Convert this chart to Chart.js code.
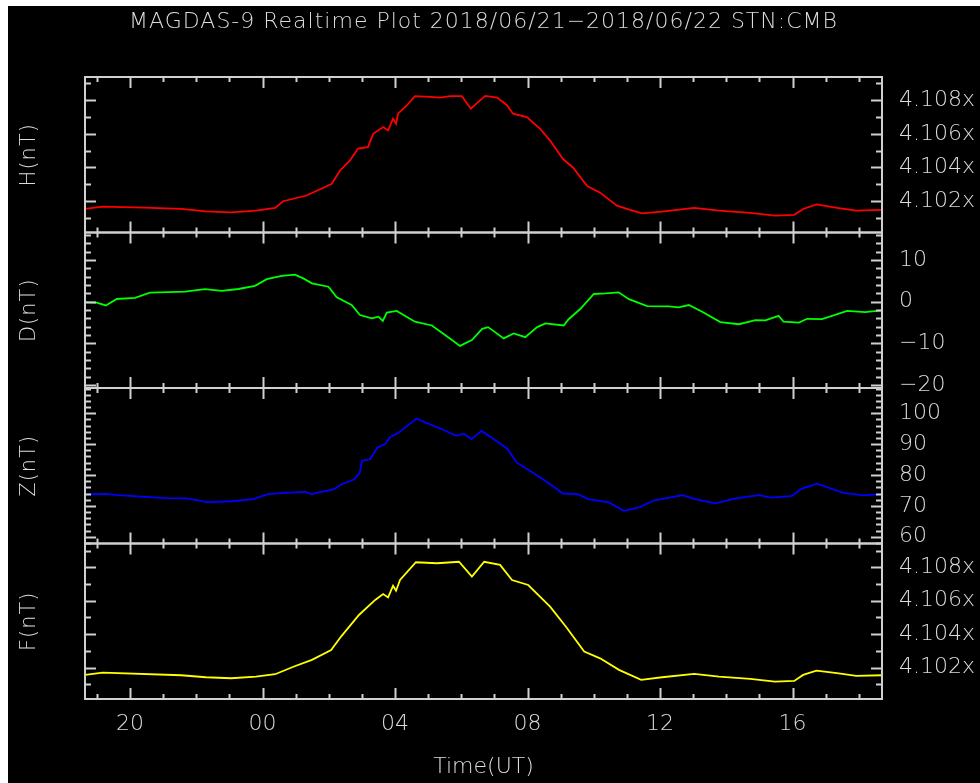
<!DOCTYPE html>
<html>
<head>
<meta charset="utf-8">
<title>MAGDAS-9 Realtime Plot</title>
<script src="https://cdn.jsdelivr.net/npm/chart.js@4.4.1/dist/chart.umd.min.js"></script>
<style>
  html, body { margin: 0; padding: 0; background: #ffffff; }
  #wrap { position: absolute; left: 8px; top: 6px; width: 972px; height: 777px; background: #000000; }
  canvas { display: block; }
</style>
</head>
<body>
<div id="wrap"><canvas id="magChart" width="972" height="777"></canvas></div>
<script>
// Time is in hours from 00 UT on 2018/06/22 (negative = 06/21).
const timeRange = [-5.36, 18.70];
const hourTicks = [-4, 0, 4, 8, 12, 16];
const hourLabels = ['20', '00', '04', '08', '12', '16'];

// H component (nT)
const hTimes = [-5.36, -4.82, -3.58, -2.46, -1.71, -0.95, -0.20, 0.38, 0.62, 1.33, 2.09, 2.34, 2.64, 2.88, 3.18, 3.34, 3.64, 3.79, 3.94, 4.03, 4.09, 4.36, 4.60, 5.06, 5.36, 5.66, 6.02, 6.17, 6.29, 6.48, 6.72, 7.08, 7.38, 7.56, 7.98, 8.38, 8.68, 9.07, 9.37, 9.80, 10.19, 10.70, 11.09, 11.46, 12.06, 13.03, 13.78, 14.72, 15.47, 16.05, 16.32, 16.72, 17.34, 17.92, 18.70];
const hValues = [41015.3, 41016.7, 41016.1, 41015.3, 41013.9, 41013.3, 41014.3, 41015.9, 41019.9, 41023.3, 41030.3, 41038.2, 41044.2, 41051.2, 41052.1, 41060, 41064, 41062, 41069, 41066, 41072, 41077, 41082.4, 41082, 41081.5, 41082.4, 41082.4, 41078, 41075, 41078.4, 41082.6, 41081.6, 41077, 41072, 41070, 41063, 41056, 41045, 41040, 41029, 41025, 41017.3, 41014.7, 41012.7, 41013.7, 41016, 41014.3, 41013, 41011.3, 41011.8, 41015.3, 41018, 41016, 41014.3, 41014.7];
const hRange = [41001.3, 41093.8];
const hTicks = [41020, 41040, 41060, 41080];
const hLabels = ['4.102x', '4.104x', '4.106x', '4.108x'];

// D component (nT)
const dTimes = [-5.36, -5.01, -4.73, -4.40, -3.85, -3.40, -2.84, -2.34, -1.74, -1.23, -0.73, -0.23, 0.13, 0.58, 0.98, 1.23, 1.49, 1.99, 2.24, 2.69, 2.94, 3.30, 3.50, 3.63, 3.75, 4.05, 4.60, 5.11, 5.51, 5.96, 6.32, 6.63, 6.81, 7.28, 7.58, 7.93, 8.29, 8.54, 9.09, 9.24, 9.59, 10.00, 10.35, 10.75, 11.06, 11.61, 12.26, 12.56, 12.87, 13.27, 13.82, 14.38, 14.88, 15.18, 15.58, 15.73, 16.19, 16.44, 16.89, 17.65, 18.19, 18.70];
const dValues = [-0.1, -0.2, -0.9, 0.65, 0.9, 2.2, 2.3, 2.4, 3.0, 2.6, 3.05, 3.8, 5.4, 6.2, 6.5, 5.6, 4.4, 3.6, 1.05, -0.8, -3.2, -4.0, -3.6, -4.6, -2.6, -2.2, -4.8, -5.7, -8.0, -10.6, -9.2, -6.5, -6.1, -8.8, -7.6, -8.5, -6.1, -5.2, -5.7, -4.2, -1.75, 1.85, 2.0, 2.25, 0.6, -1.05, -1.1, -1.35, -0.8, -2.4, -4.9, -5.4, -4.4, -4.5, -3.4, -4.8, -5.0, -4.1, -4.2, -2.2, -2.5, -2.1];
const dRange = [-20.7, 16.6];
const dTicks = [-20, -10, 0, 10];
const dLabels = ['\u221220', '\u221210', '0', '10'];

// Z component (nT)
const zTimes = [-5.36, -4.75, -4.36, -3.67, -2.90, -2.29, -1.68, -0.91, -0.29, 0.17, 0.78, 1.31, 1.47, 2.16, 2.39, 2.77, 2.93, 3.00, 3.24, 3.47, 3.70, 3.85, 4.08, 4.23, 4.65, 4.92, 5.39, 5.84, 6.07, 6.31, 6.61, 6.92, 7.38, 7.68, 8.15, 8.61, 9.07, 9.52, 9.83, 10.45, 10.91, 11.37, 11.83, 12.68, 13.06, 13.67, 14.29, 14.98, 15.36, 15.98, 16.28, 16.74, 17.51, 18.12, 18.70];
const zValues = [73.8, 73.9, 73.5, 73.0, 72.5, 72.4, 71.2, 71.5, 72.2, 73.8, 74.3, 74.5, 73.8, 75.4, 77, 78.6, 80.6, 84.6, 85.1, 88.9, 90, 92.3, 93.5, 94.8, 98.3, 97.0, 95.0, 92.7, 93.4, 91.6, 94.3, 92.1, 88.6, 84.0, 80.8, 77.6, 74.0, 73.8, 72.2, 71.1, 68.4, 69.5, 71.8, 73.5, 72.2, 70.8, 72.4, 73.5, 72.7, 73.2, 75.6, 77.2, 74.3, 73.4, 73.8];
const zRange = [57.8, 108.2];
const zTicks = [60, 70, 80, 90, 100];
const zLabels = ['60', '70', '80', '90', '100'];

// F total field (nT)
const fTimes = [-5.36, -4.82, -2.46, -1.71, -0.95, -0.20, 0.38, 0.95, 1.49, 2.07, 2.37, 2.91, 3.40, 3.64, 3.79, 3.94, 4.03, 4.15, 4.63, 5.27, 5.93, 6.32, 6.69, 7.17, 7.53, 8.02, 8.68, 9.16, 9.71, 10.19, 10.76, 11.43, 12.06, 13.03, 13.78, 14.72, 15.47, 16.05, 16.32, 16.72, 17.34, 17.92, 18.70];
const fValues = [41015.7, 41017, 41015.5, 41014.3, 41013.7, 41014.7, 41016.1, 41020.7, 41024.7, 41030.6, 41038.6, 41051.5, 41060.5, 41064, 41062, 41069, 41066, 41072.4, 41083, 41082.4, 41083.3, 41074.4, 41083.3, 41081.4, 41072.4, 41069.4, 41056.5, 41044.5, 41029.6, 41025.6, 41018.7, 41012.7, 41014.3, 41016.3, 41014.7, 41013.3, 41011.7, 41012.1, 41015.7, 41018.3, 41016.7, 41015.1, 41015.5];
const fRange = [41001.3, 41094.2];
const fTicks = [41020, 41040, 41060, 41080];
const fLabels = ['4.102x', '4.104x', '4.106x', '4.108x'];

const TITLE = 'MAGDAS-9 Realtime Plot 2018/06/21\u22122018/06/22 STN:CMB';
const FONT = '"DejaVu Sans", sans-serif';
const FONT_WEIGHT = 200;
const TEXT_COLOR = '#dcdcdc';
const FRAME_COLOR = '#d0d0d0';

// panel setup, top to bottom
const panels = [
    {id: 'yH', name: 'H(nT)', times: hTimes, values: hValues, range: hRange, ticks: hTicks, labels: hLabels, minor: 10, color: '#ff0000'},
    {id: 'yD', name: 'D(nT)', times: dTimes, values: dValues, range: dRange, ticks: dTicks, labels: dLabels, minor: 2, color: '#00ff00'},
    {id: 'yZ', name: 'Z(nT)', times: zTimes, values: zValues, range: zRange, ticks: zTicks, labels: zLabels, minor: 2, color: '#0000ff'},
    {id: 'yF', name: 'F(nT)', times: fTimes, values: fValues, range: fRange, ticks: fTicks, labels: fLabels, minor: 10, color: '#ffff00'}
];

// Frame, inward ticks, panel names and main title
const framePlugin = {
    id: 'magFrame',
    afterDatasetsDraw(chart) {
        const ctx = chart.ctx;
        const x = chart.scales.x;
        const line = (x0, y0, x1, y1) => {
            ctx.beginPath();
            ctx.moveTo(x0, y0);
            ctx.lineTo(x1, y1);
            ctx.stroke();
        };
        ctx.save();
        ctx.strokeStyle = FRAME_COLOR;
        ctx.lineWidth = 2;

        panels.forEach(p => {
            const y = chart.scales[p.id];
            ctx.strokeRect(x.left, y.top, x.right - x.left, y.bottom - y.top);

            // hourly ticks on top and bottom edge
            for (let h = Math.ceil(x.min); h <= x.max; h++) {
                const px = Math.round(x.getPixelForValue(h)) + 0.5;
                const len = hourTicks.includes(h) ? 11 : 5;
                line(px, y.top, px, y.top + len);
                line(px, y.bottom, px, y.bottom - len);
            }

            // value ticks on left and right edge
            const k0 = Math.ceil(y.min / p.minor), k1 = Math.floor(y.max / p.minor);
            for (let k = k0; k <= k1; k++) {
                const v = k * p.minor;
                const py = Math.round(y.getPixelForValue(v)) + 0.5;
                const len = p.ticks.includes(v) ? 11 : 6;
                line(x.left, py, x.left + len, py);
                line(x.right, py, x.right - len, py);
            }

            // panel name on the left
            ctx.save();
            ctx.fillStyle = TEXT_COLOR;
            ctx.font = FONT_WEIGHT + ' 21px ' + FONT;
            ctx.letterSpacing = '1px';
            ctx.textAlign = 'center';
            ctx.textBaseline = 'middle';
            ctx.translate(22, (y.top + y.bottom) / 2);
            ctx.rotate(-Math.PI / 2);
            ctx.fillText(p.name, 0, 0);
            ctx.restore();
        });

        ctx.fillStyle = TEXT_COLOR;
        ctx.font = FONT_WEIGHT + ' 22px ' + FONT;
        ctx.letterSpacing = '1px';
        ctx.textAlign = 'center';
        ctx.textBaseline = 'middle';
        ctx.fillText(TITLE, (x.left + x.right) / 2, 16);
        ctx.restore();
    }
};

const tickFont = {family: FONT, size: 22, weight: FONT_WEIGHT};

let scales = {
    x: {
        type: 'linear',
        position: 'bottom',
        min: timeRange[0],
        max: timeRange[1],
        grid: {display: false, drawTicks: false},
        border: {display: false},
        afterBuildTicks: (scale) => {
            scale.ticks = hourTicks.map(v => ({value: v}));
        },
        afterFit: (scale) => {
            scale.height = 84;
        },
        ticks: {
            color: TEXT_COLOR,
            font: tickFont,
            padding: 12,
            maxRotation: 0,
            autoSkip: false,
            callback: (val) => hourLabels[hourTicks.indexOf(val)]
        },
        title: {
            display: true,
            text: 'Time(UT)',
            color: TEXT_COLOR,
            font: tickFont,
            padding: {top: 0, bottom: 3}
        }
    }
};

panels.forEach(p => {
    scales[p.id] = {
        type: 'linear',
        position: 'right',
        stack: 'mag',
        stackWeight: 1,
        min: p.range[0],
        max: p.range[1],
        grid: {display: false, drawTicks: false},
        border: {display: false},
        afterBuildTicks: (scale) => {
            scale.ticks = p.ticks.map(v => ({value: v}));
        },
        afterFit: (scale) => {
            scale.width = 98;
        },
        ticks: {
            color: TEXT_COLOR,
            font: tickFont,
            padding: 17,
            autoSkip: false,
            callback: (val) => p.labels[p.ticks.indexOf(val)]
        }
    };
});

new Chart(document.getElementById('magChart').getContext('2d'), {
    type: 'line',
    data: {
        datasets: panels.map(p => ({
            label: p.name,
            data: p.times.map((t, i) => ({x: t, y: p.values[i]})),
            yAxisID: p.id,
            borderColor: p.color,
            borderWidth: 1.8,
            pointRadius: 0,
            tension: 0,
            fill: false
        }))
    },
    options: {
        responsive: false,
        animation: false,
        layout: {padding: {left: 77, top: 71, right: 0, bottom: 0}},
        plugins: {
            legend: {display: false},
            tooltip: {enabled: false}
        },
        scales: scales
    },
    plugins: [framePlugin]
});
</script>
</body>
</html>
